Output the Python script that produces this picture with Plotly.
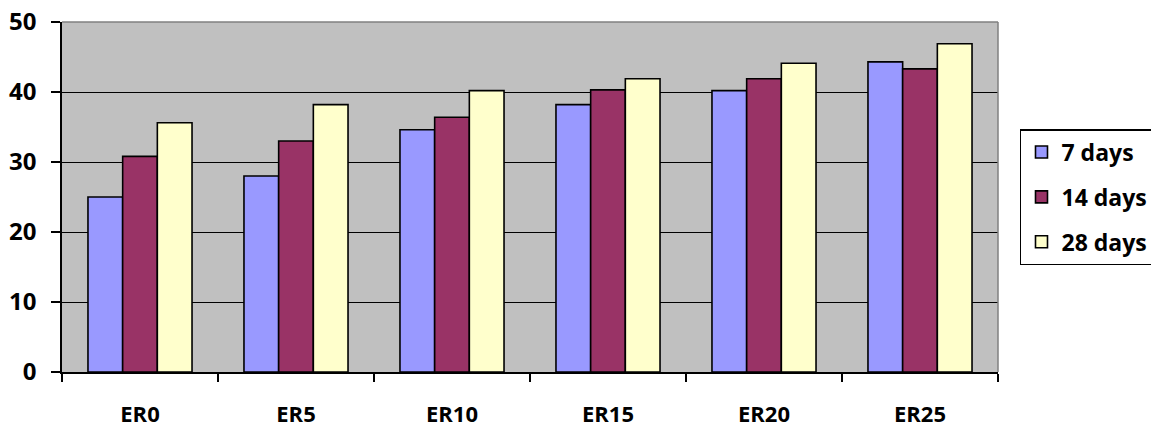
import plotly.graph_objects as go

categories = ["ER0", "ER5", "ER10", "ER15", "ER20", "ER25"]
days7 = [25.0, 28.0, 34.6, 38.2, 40.2, 44.3]
days14 = [30.8, 33.0, 36.4, 40.3, 41.9, 43.3]
days28 = [35.6, 38.2, 40.2, 41.9, 44.1, 46.9]
series_names = ["7 days", "14 days", "28 days"]
colors = ["#9999FF", "#993366", "#FFFFCC"]
y_ticks = [0, 10, 20, 30, 40, 50]

fig = go.Figure()
for name, vals, col in zip(series_names, [days7, days14, days28], colors):
    fig.add_trace(go.Bar(
        x=categories, y=vals, name=name, legendgroup=name,
        marker=dict(color=col, line=dict(color="black", width=1.6)),
    ))

font_family = "'Open Sans', sans-serif"
fig.update_layout(
    width=1151, height=430,
    margin=dict(l=62, r=153, t=22, b=58, autoexpand=False),
    paper_bgcolor="white",
    plot_bgcolor="#C0C0C0",
    barmode="group",
    bargap=0.333,
    bargroupgap=0,
    font=dict(family=font_family, size=22, color="black"),
    legend=dict(
        x=1.0235, y=0.5, xanchor="left", yanchor="middle",
        bordercolor="black", borderwidth=1.5, bgcolor="white",
        font=dict(family=font_family, size=23, color="black", weight="bold"),
        traceorder="grouped", tracegroupgap=12,
    ),
    xaxis=dict(
        type="category", automargin=False,
        showline=True, linecolor="black", linewidth=1.5,
        ticks="outside", ticklen=8, tickcolor="black", tickwidth=1.5,
        tickson="boundaries",
        tickfont=dict(family=font_family, size=22, color="black", weight="bold"),
        ticklabelstandoff=22,
        showgrid=False,
    ),
    yaxis=dict(
        range=[0, 50], tickvals=y_ticks, automargin=False,
        showline=True, linecolor="black", linewidth=1.5,
        ticks="outside", ticklen=9, tickcolor="black", tickwidth=1.5,
        tickfont=dict(family=font_family, size=24, color="black", weight="bold"),
        ticklabelstandoff=10,
        showgrid=True, gridcolor="black", gridwidth=1.3,
        zeroline=False,
    ),
    shapes=[
        dict(type="line", xref="paper", yref="paper", x0=0, x1=1, y0=1, y1=1,
             line=dict(color="#808080", width=1.5)),
        dict(type="line", xref="paper", yref="paper", x0=1, x1=1, y0=0, y1=1,
             line=dict(color="#808080", width=1.5)),
    ],
)

fig.write_html(
    "out.html",
    config={"displayModeBar": False},
    post_script="document.body.style.margin='0';document.body.style.overflow='hidden';",
)
